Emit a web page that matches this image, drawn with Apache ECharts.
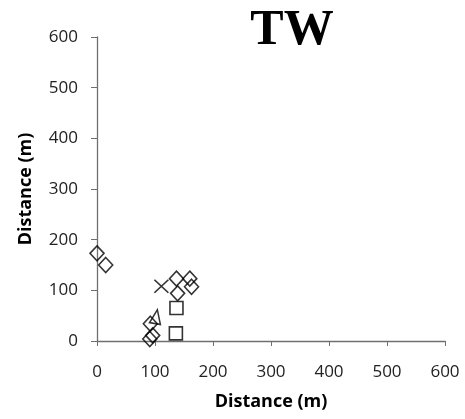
<!DOCTYPE html>
<html>
<head>
<meta charset="utf-8">
<script src="https://cdn.jsdelivr.net/npm/echarts@6/dist/echarts.min.js"></script>
<style>html,body{margin:0;padding:0;background:#fff}#c{width:465px;height:419px}</style>
</head>
<body>
<div id="c"></div>
<script>
var titleText = "TW";
var xAxisName = "Distance (m)";
var yAxisName = "Distance (m)";
var axisMin = 0, axisMax = 600, axisStep = 100;

var diamondPoints = [[0,173],[15,150],[137,123],[160,123],[163,107],[139,94],[92,34],[96,11],[91,4]];
var squarePoints = [[137,65],[136,15]];
var trianglePoints = [[102,48]];
var crossPoints = [[111,108]];

var chart = echarts.init(document.getElementById('c'), null, {renderer:'canvas'});
var markStyle = {color:'rgba(0,0,0,0)', borderColor:'#000', borderWidth:1.6};
var axisFont = "'Open Sans', 'Liberation Sans', sans-serif";
chart.setOption({
  animation:false,
  title:{text:titleText, left:287, top:1, textAlign:'center',
    textStyle:{fontFamily:"'Liberation Serif', 'Times New Roman', serif", fontWeight:'bold', fontSize:50, color:'#000'}},
  grid:{left:97, right:20, top:37, bottom:78, containLabel:false},
  xAxis:{type:'value', min:axisMin, max:axisMax, interval:axisStep,
    name:xAxisName, nameLocation:'middle', nameGap:52,
    nameTextStyle:{fontFamily:axisFont, fontWeight:'bold', fontSize:18, color:'#000'},
    axisLine:{show:true, onZero:false, lineStyle:{color:'#6f6f6f', width:1.3}},
    axisTick:{show:true, inside:false, length:5, lineStyle:{color:'#6f6f6f'}},
    axisLabel:{margin:23, fontFamily:axisFont, fontSize:17, color:'#222'},
    splitLine:{show:false}},
  yAxis:{type:'value', min:axisMin, max:axisMax, interval:axisStep,
    name:yAxisName, nameLocation:'middle', nameGap:62,
    nameTextStyle:{fontFamily:axisFont, fontWeight:'bold', fontSize:18, color:'#000'},
    axisLine:{show:true, onZero:false, lineStyle:{color:'#6f6f6f', width:1.3}},
    axisTick:{show:true, inside:false, length:6, lineStyle:{color:'#6f6f6f'}},
    axisLabel:{margin:19, fontFamily:axisFont, fontSize:17, color:'#222'},
    splitLine:{show:false}},
  series:[
    {type:'scatter', data:diamondPoints, symbol:'diamond', symbolSize:[14,15], itemStyle:markStyle},
    {type:'scatter', data:squarePoints, symbol:'rect', symbolSize:[13,13], itemStyle:markStyle},
    {type:'scatter', data:trianglePoints, symbol:'triangle', symbolSize:[11,14], symbolRotate:-10, itemStyle:markStyle},
    {type:'scatter', data:crossPoints, symbol:'path://M0,0L10,10M10,0L0,10', symbolSize:[14,13],
      itemStyle:{color:'none', borderColor:'#000', borderWidth:1.6}}
  ]
});
</script>
</body>
</html>
